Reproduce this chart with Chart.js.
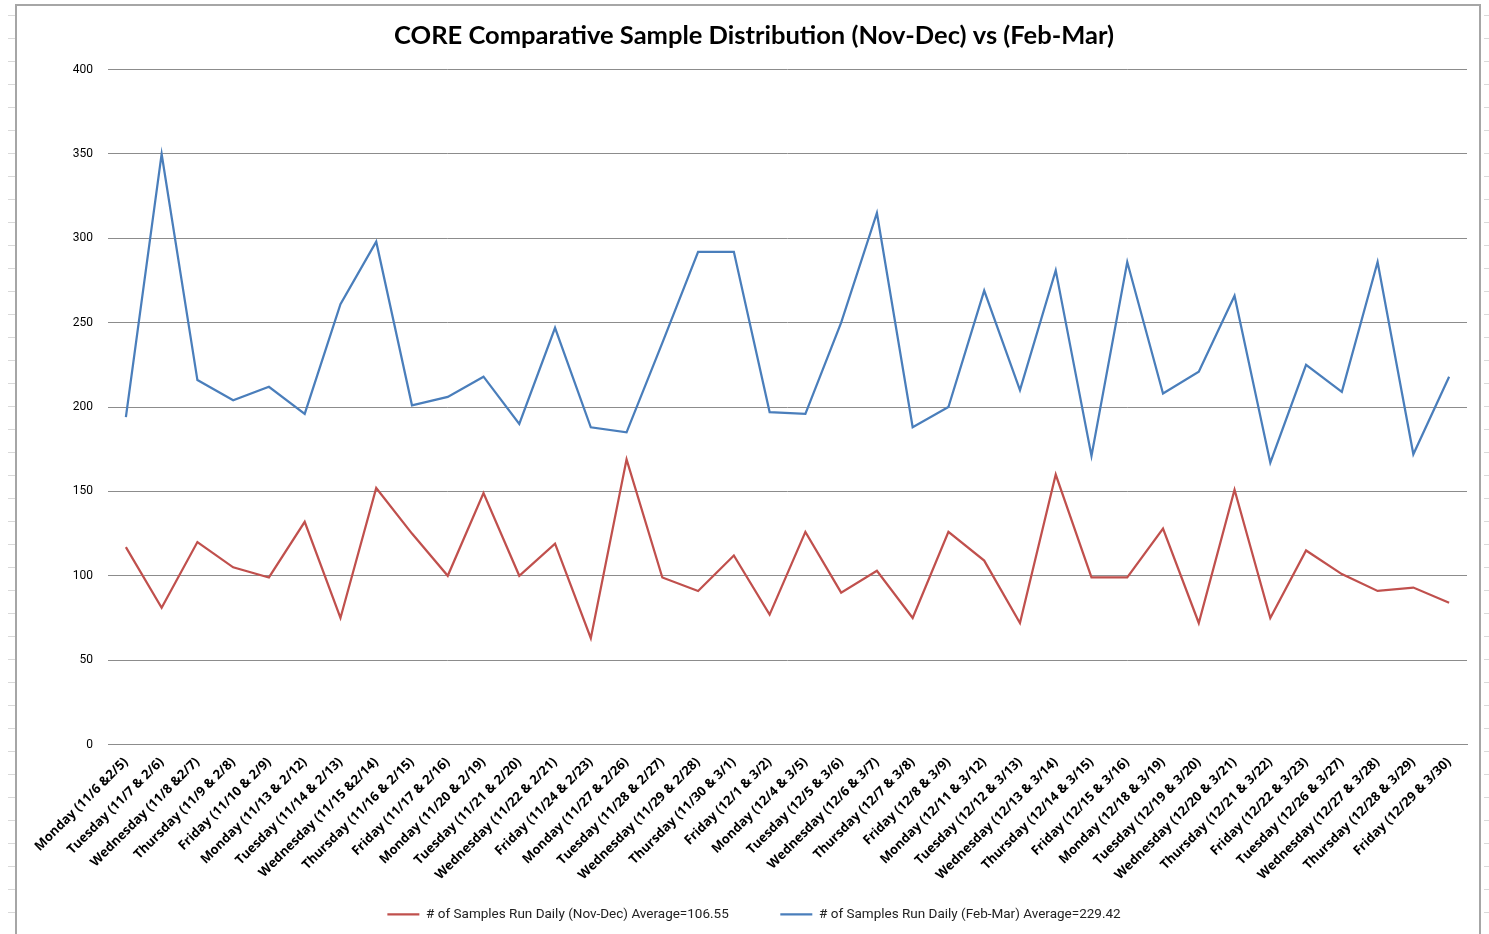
<!DOCTYPE html>
<html>
<head>
<meta charset="utf-8">
<script src="https://cdn.jsdelivr.net/npm/chart.js@4/dist/chart.umd.min.js"></script>
<style>
  html, body { margin: 0; padding: 0; background: #fff; width: 1489px; height: 934px; overflow: hidden; }
  #frame { position: absolute; left: 15px; top: 4px; width: 1466px; height: 940px; border: 2px solid #a6a6a6; box-sizing: border-box; background: #fff; }
  #wrap { position: absolute; left: 16px; top: 5px; width: 1466px; height: 929px; }
  .strip { position: absolute; top: 15px; width: 7px; height: 919px;
    background: repeating-linear-gradient(to bottom, #d9d9d9 0px, #d9d9d9 1px, transparent 1px, transparent 23px); }
</style>
</head>
<body>
<div class="strip" style="left:8px"></div>
<div class="strip" style="left:1484px"></div>
<div id="frame"></div>
<div id="wrap"><canvas id="c"></canvas></div>
<script>
const categories = [
  "Monday (11/6 &2/5)", "Tuesday (11/7 & 2/6)", "Wednesday (11/8 &2/7)", "Thursday (11/9 & 2/8)",
  "Friday (11/10 & 2/9)", "Monday (11/13 & 2/12)", "Tuesday (11/14 & 2/13)", "Wednesday (11/15 &2/14)",
  "Thursday (11/16 & 2/15)", "Friday (11/17 & 2/16)", "Monday (11/20 & 2/19)", "Tuesday (11/21 & 2/20)",
  "Wednesday (11/22 & 2/21)", "Friday (11/24 & 2/23)", "Monday (11/27 & 2/26)", "Tuesday (11/28 & 2/27)",
  "Wednesday (11/29 & 2/28)", "Thursday (11/30 & 3/1)", "Friday (12/1 & 3/2)", "Monday (12/4 & 3/5)",
  "Tuesday (12/5 & 3/6)", "Wednesday (12/6 & 3/7)", "Thursday (12/7 & 3/8)", "Friday (12/8 & 3/9)",
  "Monday (12/11 & 3/12)", "Tuesday (12/12 & 3/13)", "Wednesday (12/13 & 3/14)", "Thursday (12/14 & 3/15)",
  "Friday (12/15 & 3/16)", "Monday (12/18 & 3/19)", "Tuesday (12/19 & 3/20)", "Wednesday (12/20 & 3/21)",
  "Thursday (12/21 & 3/22)", "Friday (12/22 & 3/23)", "Tuesday (12/26 & 3/27)", "Wednesday (12/27 & 3/28)",
  "Thursday (12/28 & 3/29)", "Friday (12/29 & 3/30)"
];

const novDecSamples = [
  117, 81, 120, 105, 99, 132, 75, 152, 125, 100,
  149, 100, 119, 63, 169, 99, 91, 112, 77, 126,
  90, 103, 75, 126, 109, 72, 160, 99, 99, 128,
  72, 151, 75, 115, 101, 91, 93, 84
];

const febMarSamples = [
  194, 350, 216, 204, 212, 196, 261, 298, 201, 206,
  218, 190, 247, 188, 185, 238, 292, 292, 197, 196,
  250, 315, 188, 200, 269, 210, 281, 171, 286, 208,
  221, 266, 167, 225, 209, 286, 172, 218
];

const seriesNames = [
  "# of Samples Run Daily (Nov-Dec) Average=106.55",
  "# of Samples Run Daily (Feb-Mar) Average=229.42"
];

const titleText = "CORE Comparative Sample Distribution (Nov-Dec) vs (Feb-Mar)";
const yTicks = [0, 50, 100, 150, 200, 250, 300, 350, 400];

const RED = "#C0504D";
const BLUE = "#4A7EBB";

new Chart(document.getElementById("c"), {
  type: "line",
  data: {
    labels: categories,
    datasets: [
      { label: seriesNames[0], data: novDecSamples, borderColor: RED, backgroundColor: RED,
        borderWidth: 2.25, pointRadius: 0, tension: 0, fill: false },
      { label: seriesNames[1], data: febMarSamples, borderColor: BLUE, backgroundColor: BLUE,
        borderWidth: 2.25, pointRadius: 0, tension: 0, fill: false }
    ]
  },
  options: {
    responsive: true,
    maintainAspectRatio: false,
    animation: false,
    layout: { padding: { left: 25, right: 15, top: 0, bottom: 3 } },
    plugins: {
      tooltip: { enabled: false },
      title: {
        display: true, text: titleText, color: "#000",
        font: { family: "Lato", size: 25.5, weight: "bold" },
        padding: { top: 15, bottom: 19 }
      },
      legend: {
        position: "bottom",
        labels: {
          usePointStyle: true, pointStyle: "line", pointStyleWidth: 32,
          color: "#222", font: { family: "Roboto", size: 13.5 },
          padding: 24, boxHeight: 8,
          generateLabels: (chart) => {
            const items = Chart.defaults.plugins.legend.labels.generateLabels(chart);
            items.forEach((it, i) => { if (i < items.length - 1) it.text = it.text + "\u2003\u2003"; });
            return items;
          }
        }
      }
    },
    scales: {
      x: {
        offset: true,
        grid: { display: false },
        border: { display: true, color: "#8c8c8c", width: 1 },
        ticks: {
          autoSkip: false, maxRotation: 45, minRotation: 45, color: "#000", padding: 2,
          font: { family: "Open Sans", size: 13, weight: "bold" }
        },
        afterFit: (s) => { s.height = 139; }
      },
      y: {
        min: 0, max: 400,
        afterBuildTicks: (s) => { s.ticks = yTicks.map(v => ({ value: v })); },
        grid: { color: "#8c8c8c", lineWidth: 1, drawTicks: false },
        border: { display: false },
        ticks: { color: "#000", padding: 15, font: { family: "Roboto", size: 12 } },
        afterFit: (s) => { s.width = 67; }
      }
    }
  }
});
</script>
</body>
</html>
